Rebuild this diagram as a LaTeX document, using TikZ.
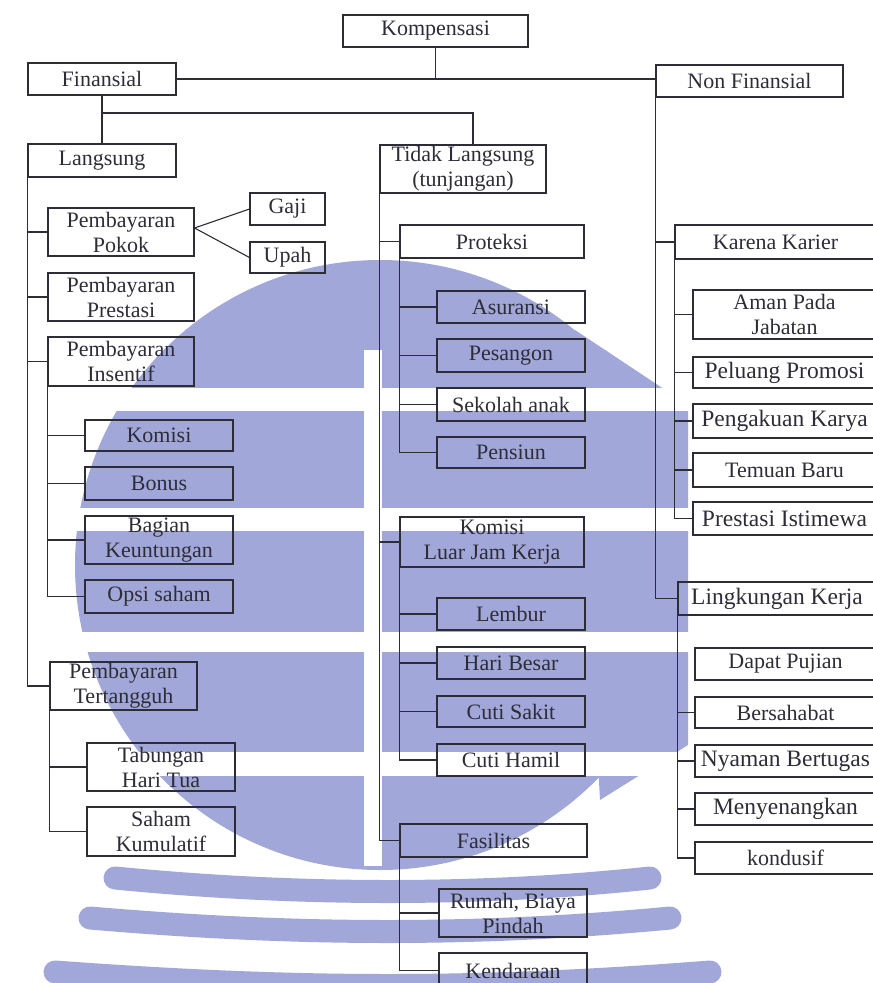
\documentclass[tikz,border=0pt]{standalone}
\usepackage{fontspec}
\setmainfont{Liberation Serif}
\definecolor{wm}{RGB}{162,167,217}
\definecolor{ink}{RGB}{45,45,55}
\newcommand\bx[7][]{%
  \pgfmathsetmacro\boxW{#5-#3}\pgfmathsetmacro\boxH{#6-#4}%
  \node[box,#1,minimum width=\boxW pt,minimum height=\boxH pt] (#2) at ({(#3+#5)/2},{(#4+#6)/2}) {#7};}
\begin{document}
\begin{tikzpicture}[x=1pt,y=-1pt,
  box/.style={draw=ink, line width=1.1pt, inner sep=0pt, align=center, text=ink, font=\fontsize{22}{25}\selectfont},
  big/.style={font=\fontsize{23.5}{26}\selectfont},
  conn/.style={draw=ink, line width=1.1pt},
  wmarc/.style={draw=wm, line width=23pt, line cap=round}]
\useasboundingbox (0,0) rectangle (873,983);
\clip (0,0) rectangle (873,983);
% watermark
\fill[wm] (380,565) circle[radius=305pt];
\fill[wm] (575,330) -- (688,405) -- (688,745) -- (600,800) -- cycle;
\fill[white] (0,388) rectangle (700,411);
\fill[white] (0,508) rectangle (700,531);
\fill[white] (0,632) rectangle (700,652);
\fill[white] (0,752) rectangle (700,776);
\fill[white] (364,350) rectangle (382,866);
\draw[wmarc] (115,878) .. controls (300,896) and (480,896) .. (650,878);
\draw[wmarc] (90,918) .. controls (300,936) and (480,936) .. (670,918);
\draw[wmarc] (55,972) .. controls (300,990) and (480,990) .. (710,972);
% boxes
\bx{komp}{343}{15}{528}{47}{Kompensasi}
\bx{fin}{28}{63}{176}{95}{Finansial}
\bx{nonfin}{656}{65}{843}{97}{Non Finansial}
\bx{lang}{28}{144}{176}{177}{Langsung}
\bx{tl}{380}{145}{546}{193}{Tidak Langsung\\(tunjangan)}
\bx{pokok}{48}{208}{194}{256}{Pembayaran\\Pokok}
\bx{gaji}{250}{193}{325}{225}{Gaji}
\bx{upah}{250}{242}{325}{273}{Upah}
\bx{prestasi}{48}{273}{194}{321}{Pembayaran\\Prestasi}
\bx{insentif}{48}{337}{194}{386}{Pembayaran\\Insentif}
\bx{komisi}{85}{420}{233}{451}{Komisi}
\bx{bonus}{85}{467}{233}{500}{Bonus}
\bx{bagian}{85}{516}{233}{564}{Bagian\\Keuntungan}
\bx{opsi}{85}{580}{233}{613}{Opsi saham}
\bx{tert}{50}{662}{197}{710}{Pembayaran\\Tertangguh}
\bx{tabungan}{87}{743}{235}{791}{Tabungan\\Hari Tua}
\bx{saham}{87}{807}{235}{856}{Saham\\Kumulatif}
\bx{proteksi}{400}{225}{584}{258}{Proteksi}
\bx{asuransi}{437}{291}{585}{323}{Asuransi}
\bx{pesangon}{437}{339}{585}{372}{Pesangon}
\bx{sekolah}{437}{388}{585}{421}{Sekolah anak}
\bx{pensiun}{437}{437}{585}{468}{Pensiun}
\bx{kljk}{400}{517}{584}{567}{Komisi\\Luar Jam Kerja}
\bx{lembur}{437}{598}{585}{630}{Lembur}
\bx{hari}{437}{647}{585}{679}{Hari Besar}
\bx{sakit}{437}{696}{585}{727}{Cuti Sakit}
\bx{hamil}{437}{744}{585}{776}{Cuti Hamil}
\bx{fas}{400}{824}{587}{857}{Fasilitas}
\bx{rumah}{439}{889}{587}{937}{Rumah, Biaya\\Pindah}
\bx{kend}{439}{953}{587}{988}{Kendaraan}
\bx{karier}{675}{225}{876}{259}{Karena Karier}
\bx{aman}{693}{290}{876}{339}{Aman Pada\\Jabatan}
\bx[big]{peluang}{693}{357}{876}{388}{Peluang Promosi}
\bx[big]{pengakuan}{693}{404}{876}{438}{Pengakuan Karya}
\bx{temuan}{693}{453}{876}{487}{Temuan Baru}
\bx[big]{istimewa}{693}{502}{876}{535}{Prestasi Istimewa}
\bx[big]{lingk}{678}{582}{876}{615}{Lingkungan Kerja}
\bx{pujian}{695}{648}{876}{680}{Dapat Pujian}
\bx{sahabat}{695}{697}{876}{728}{Bersahabat}
\bx[big]{nyaman}{695}{745}{876}{777}{Nyaman Bertugas}
\bx[big]{senang}{695}{793}{876}{825}{Menyenangkan}
\bx{kondusif}{695}{842}{876}{874}{kondusif}
% connectors
\draw[conn] (komp.south) -- (komp.south |- fin.east);
\draw[conn] (fin.east) -- (fin.east -| nonfin.west);
\draw[conn] (fin.south) -- (lang.north);
\coordinate (tlj) at (473,113);
\draw[conn] (fin.south |- tlj) -- (tlj) -- (tlj |- tl.north);
\draw[conn] (lang.south west) |- (tert.west);
\foreach \n in {pokok,prestasi,insentif} \draw[conn] (lang.south west |- \n.west) -- (\n.west);
\draw[conn] (gaji.west) -- ([yshift=4pt]pokok.east) -- (upah.west);
\draw[conn] (insentif.south west) |- (opsi.west);
\foreach \n in {komisi,bonus,bagian} \draw[conn] (insentif.south west |- \n.west) -- (\n.west);
\draw[conn] (tert.south west) |- (saham.west);
\draw[conn] (tert.south west |- tabungan.west) -- (tabungan.west);
\draw[conn] (tl.south west) |- (fas.west);
\foreach \n in {proteksi,kljk} \draw[conn] (tl.south west |- \n.west) -- (\n.west);
\draw[conn] (proteksi.south west) |- (pensiun.west);
\foreach \n in {asuransi,pesangon,sekolah} \draw[conn] (proteksi.south west |- \n.west) -- (\n.west);
\draw[conn] (kljk.south west) |- (hamil.west);
\foreach \n in {lembur,hari,sakit} \draw[conn] (kljk.south west |- \n.west) -- (\n.west);
\draw[conn] (fas.south west) |- (kend.west);
\draw[conn] (fas.south west |- rumah.west) -- (rumah.west);
\draw[conn] (nonfin.south west) |- (lingk.west);
\draw[conn] (nonfin.south west |- karier.west) -- (karier.west);
\draw[conn] (karier.south west) |- (istimewa.west);
\foreach \n in {aman,peluang,pengakuan,temuan} \draw[conn] (karier.south west |- \n.west) -- (\n.west);
\draw[conn] (lingk.south west) |- (kondusif.west);
\foreach \n in {sahabat,nyaman,senang} \draw[conn] (lingk.south west |- \n.west) -- (\n.west);
\end{tikzpicture}
\end{document}
